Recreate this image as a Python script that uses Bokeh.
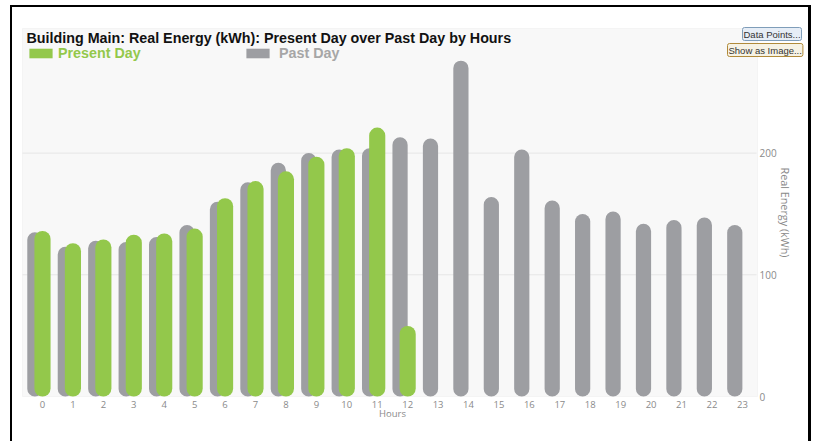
import math
from bokeh.plotting import figure
from bokeh.models import (ColumnDataSource, Label, Legend, LegendItem, FixedTicker,
                          Range1d, BoxAnnotation)
from bokeh.core.properties import value
from bokeh.embed import file_html
from bokeh.resources import INLINE

# ---- data ----
hours = list(range(24))
hour_labels = [str(h) for h in hours]
past_day = [135, 123, 128, 127, 131, 141, 160, 176, 192, 200, 203, 204,
            213, 212, 276, 164, 203, 161, 150, 152, 142, 145, 147, 141]
present_hours = list(range(13))
present_day = [136, 126, 129, 133, 134, 138, 163, 177, 185, 197, 204, 221, 58]
y_ticks = [0, 100, 200]
y_tick_labels = ["0", "100", "200"]

GREEN = "#93c84b"
GRAY = "#9d9ea2"
AXIS_TXT = "#8a8a8a"

W, H = 813, 441
PX_PER_HOUR = 30.43
PX_PER_KWH = 1.2169
X0_PX, Y0_PX = 42, 396   # pixel position of hour 0 / value 0


def dx(px):
    return (px - X0_PX) / PX_PER_HOUR


def dy(py):
    return (Y0_PX - py) / PX_PER_KWH


p = figure(width=W, height=H, output_backend="svg", toolbar_location=None,
           x_range=Range1d(dx(0), dx(W)), y_range=Range1d(dy(H), dy(0)),
           y_axis_location=None,
           min_border_left=0, min_border_right=0, min_border_top=0, min_border_bottom=0)
p.background_fill_alpha = 0
p.border_fill_alpha = 0
p.outline_line_color = None
p.grid.grid_line_color = None
# black screenshot frame drawn as CSS background stripes (no layout change)
p.styles = {
    "background": ("linear-gradient(#000,#000) 10px 5px / 2px 100% no-repeat, "
                   "linear-gradient(#000,#000) 10px 5px / 801px 2px no-repeat, "
                   "linear-gradient(#000,#000) 808px 5px / 3px 100% no-repeat, white"),
}

# plot area background
p.add_layout(BoxAnnotation(left=dx(22), right=dx(757), bottom=0, top=dy(28),
                           fill_color="#f8f8f8", fill_alpha=1, line_color="#e4e4e4",
                           line_width=1, level="underlay"))

# horizontal grid lines
grid_src = ColumnDataSource(dict(y=y_ticks[1:]))
p.segment(x0=dx(22), x1=dx(756), y0="y", y1="y", source=grid_src,
          line_color="#e6e6e6", line_width=1)

past_src = ColumnDataSource(dict(x=[h - 0.25 for h in hours], top=past_day))
pres_src = ColumnDataSource(dict(x=present_hours, top=present_day))

r_past = p.vbar(x="x", top="top", width=0.50, source=past_src, fill_color=GRAY,
                line_color=None, border_radius=8)
r_pres = p.vbar(x="x", top="top", width=0.53, source=pres_src, fill_color=GREEN,
                line_color=None, border_radius=8)

# x axis (Bokeh axis, pinned at value 0)
xa = p.xaxis[0]
xa.fixed_location = 0
xa.ticker = FixedTicker(ticks=hours)
xa.major_label_overrides = {h: s for h, s in zip(hours, hour_labels)}
xa.axis_line_color = None
xa.major_tick_line_color = None
xa.minor_tick_line_color = None
xa.major_label_text_color = AXIS_TXT
xa.major_label_text_font = "Open Sans"
xa.major_label_text_font_size = "9.5px"
xa.major_label_standoff = -2

# x axis title, centred under the plot area
p.add_layout(Label(x=392, y=413, x_units="canvas", y_units="canvas", text="Hours",
                   text_font="Open Sans", text_font_size="9.5px", text_color=AXIS_TXT,
                   text_align="center", text_baseline="middle"))

# right value axis labels
ytick_src = ColumnDataSource(dict(y=y_ticks, t=y_tick_labels))
p.text(x=dx(759), y="y", text="t", source=ytick_src, text_align="left",
       text_baseline="middle", text_font=value("Open Sans"), text_font_size="10px",
       text_color=AXIS_TXT)
p.text(x=dx(785), y=dy(212), text=["Real Energy (kWh)"], angle=-math.pi / 2,
       text_align="center", text_baseline="middle", text_font=value("Open Sans"),
       text_font_size="10.8px", text_color=AXIS_TXT)

# title
p.add_layout(Label(x=26, y=29, x_units="canvas", y_units="canvas",
                   text="Building Main: Real Energy (kWh): Present Day over Past Day by Hours",
                   text_font="Liberation Sans", text_font_style="bold", text_font_size="14.3px",
                   text_color="#111111", text_baseline="top", text_align="left"))

# legends (location: pixels from frame bottom-left)
leg_common = dict(orientation="horizontal", padding=0, margin=0, border_line_alpha=0,
                  background_fill_alpha=0, glyph_width=29, glyph_height=12, label_height=12,
                  label_text_font="Liberation Sans", label_text_font_style="bold",
                  label_text_font_size="14.3px")
leg1 = Legend(items=[LegendItem(label="Present Day", renderers=[r_pres])],
              location=(26, H - 61), label_standoff=3, label_text_color=GREEN, **leg_common)
leg2 = Legend(items=[LegendItem(label="Past Day", renderers=[r_past])],
              location=(243, H - 61), label_standoff=7, label_text_color="#a6a6a6",
              **leg_common)
p.add_layout(leg1, "center")
p.add_layout(leg2, "center")

# UI-like buttons
p.add_layout(Label(x=742, y=27, x_units="canvas", y_units="canvas",
                   text="Data Points...", text_font="Liberation Sans",
                   text_font_size="9.5px", text_color="#333333", text_baseline="top",
                   background_fill_color="#e6edf6", border_line_color="#7f9db9",
                   padding=1, border_radius=2))
p.add_layout(Label(x=727, y=43, x_units="canvas", y_units="canvas",
                   text="Show as Image...", text_font="Liberation Sans",
                   text_font_size="9.5px", text_color="#333333", text_baseline="top",
                   background_fill_color="#f6f2e4", border_line_color="#b08a3a",
                   padding=1, border_radius=2))

open("out.html", "w").write(file_html(p, INLINE))
